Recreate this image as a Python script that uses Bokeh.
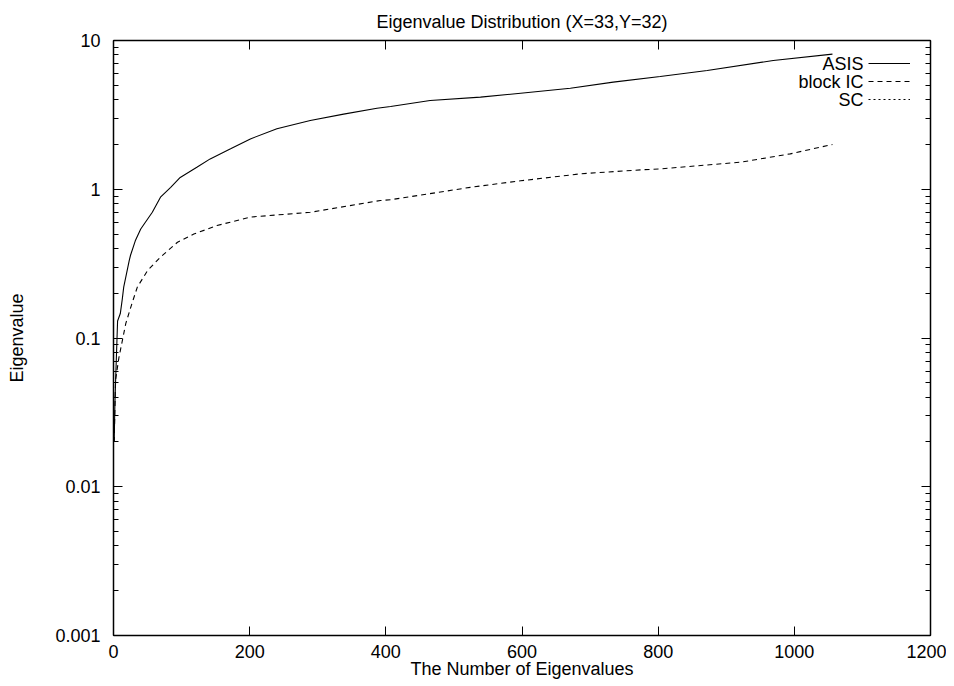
from bokeh.plotting import figure
from bokeh.models import (Range1d, FixedTicker, LinearAxis, LogAxis,
                          CustomJSTickFormatter, CustomLabelingPolicy,
                          Legend, LegendItem, Label)
from bokeh.core.properties import value
from bokeh.embed import file_html
from bokeh.resources import INLINE

# ---------------- data ----------------
asis_x = [1, 2, 3, 6, 10, 13, 15, 23, 25, 32, 40, 57, 69, 84, 98, 123, 142,
          172, 201, 240, 289, 338, 387, 407, 465, 539, 598, 671, 734, 803,
          872, 969, 1056]
asis_y = [0.02, 0.035, 0.05, 0.13, 0.146, 0.184, 0.22, 0.33, 0.36, 0.45, 0.54,
          0.70, 0.885, 1.03, 1.2, 1.41, 1.6, 1.87, 2.18, 2.55, 2.9, 3.2, 3.5,
          3.6, 3.95, 4.16, 4.42, 4.78, 5.25, 5.73, 6.28, 7.34, 8.1]

blockic_x = [1, 3, 8, 18, 27, 35, 50, 69, 94, 118, 152, 201, 289, 392, 407,
             524, 598, 686, 774, 803, 921, 994, 1056]
blockic_y = [0.02, 0.052, 0.074, 0.125, 0.17, 0.22, 0.284, 0.35, 0.44, 0.50,
             0.57, 0.65, 0.70, 0.84, 0.85, 1.03, 1.14, 1.27, 1.35, 1.37, 1.52,
             1.73, 2.0]

# SC is listed in the key but no separate curve is visible in the picture
sc_x = [float("nan")]
sc_y = [float("nan")]

x_ticks = [0, 200, 400, 600, 800, 1000, 1200]
y_ticks = [0.001, 0.01, 0.1, 1, 10]
y_minor = [m * e for e in (0.001, 0.01, 0.1, 1) for m in range(2, 10)]

series_names = ["ASIS", "block IC", "SC"]
title_text = "Eigenvalue Distribution (X=33,Y=32)"
x_label = "The Number of Eigenvalues"
y_label = "Eigenvalue"

FONT = "Liberation Sans"
FS = "18px"

# ---------------- figure ----------------
p = figure(width=946, height=686, output_backend="svg", toolbar_location=None,
           y_axis_type="log", x_range=Range1d(0, 1200),
           y_range=Range1d(0.001, 10),
           min_border_left=113, min_border_right=16,
           min_border_top=40, min_border_bottom=51)

p.title.text = title_text
p.title.align = "center"
p.title.text_font = FONT
p.title.text_font_size = FS
p.title.text_font_style = "normal"
p.title.text_color = "black"
p.title.standoff = 18

p.xgrid.visible = False
p.ygrid.visible = False
p.outline_line_color = "black"
p.outline_line_width = 1
p.background_fill_color = "white"
p.border_fill_color = "white"

xticker = FixedTicker(ticks=x_ticks)
yticker = FixedTicker(ticks=y_ticks, minor_ticks=y_minor)
yfmt = CustomJSTickFormatter(code="return tick.toString();")
blank_fmt = CustomJSTickFormatter(code="return '';")
no_labels = CustomLabelingPolicy(code="""
    for (const i of indices)
        indices.unset(i)
    return indices
""")


def style_axis(ax, fs=FS):
    ax.axis_line_color = "black"
    ax.axis_line_width = 1.5
    ax.major_tick_line_color = "black"
    ax.minor_tick_line_color = "black"
    ax.major_tick_in = 9
    ax.major_tick_out = 0
    ax.minor_tick_in = 5
    ax.minor_tick_out = 0
    ax.major_label_text_font = FONT
    ax.major_label_text_font_size = fs
    ax.major_label_text_color = "black"
    ax.axis_label_text_font = FONT
    ax.axis_label_text_font_size = FS
    ax.axis_label_text_font_style = "normal"
    ax.axis_label_text_color = "black"


xa = p.xaxis[0]
xa.ticker = xticker
style_axis(xa)
xa.major_label_standoff = 9
xa.axis_label = x_label
xa.axis_label_standoff = -2

ya = p.yaxis[0]
ya.ticker = yticker
ya.formatter = yfmt
style_axis(ya)
ya.major_label_standoff = 13
ya.axis_label = y_label
ya.axis_label_standoff = 25

# mirrored tick marks on the top and right edges (no labels)
top = LinearAxis(ticker=xticker, formatter=blank_fmt,
                 major_label_policy=no_labels)
style_axis(top, "1px")
top.major_label_standoff = 0
p.add_layout(top, "above")

right = LogAxis(ticker=yticker, formatter=blank_fmt,
                major_label_policy=no_labels)
style_axis(right, "1px")
right.major_label_standoff = 0
p.add_layout(right, "right")

# ---------------- curves ----------------
r_asis = p.line(asis_x, asis_y, line_color="black", line_width=1.1)
r_bic = p.line(blockic_x, blockic_y, line_color="black", line_width=1.1,
               line_dash="5 4")
r_sc = p.line(sc_x, sc_y, line_color="black", line_width=1.1,
              line_dash="2 3")

# ---------------- key (text left of sample, gnuplot style) ----------------
legend = Legend(items=[LegendItem(label=value(""), renderers=[r])
                       for r in (r_asis, r_bic, r_sc)],
                location=(755, 527), padding=0, margin=0, spacing=0,
                glyph_width=42, glyph_height=18, label_height=18,
                label_width=0, label_standoff=0,
                border_line_color=None, background_fill_alpha=0,
                label_text_font_size="1px")
p.add_layout(legend, "center")

for i, name in enumerate(series_names):
    p.add_layout(Label(x=750, y=572 - 18 * i, x_units="screen",
                       y_units="screen", text=name, text_align="right",
                       text_baseline="middle", text_font=FONT,
                       text_font_size=FS, text_color="black"))

open("out.html", "w").write(file_html(p, INLINE))
